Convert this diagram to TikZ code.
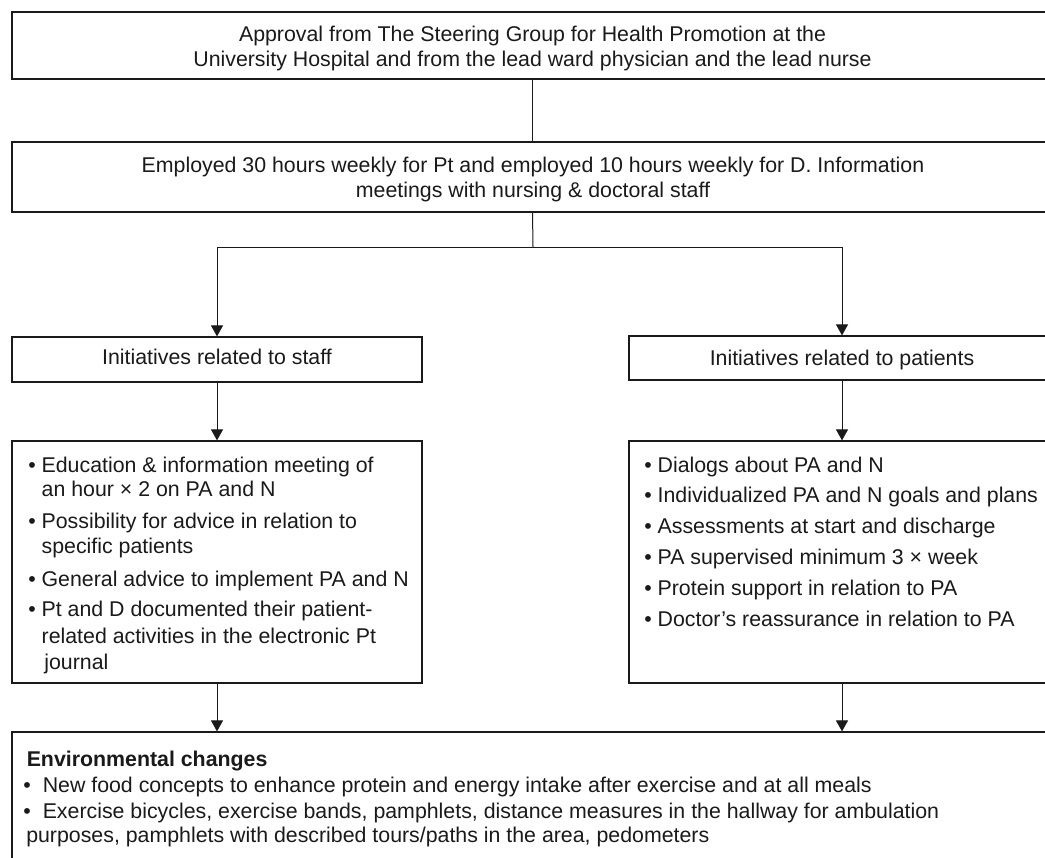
\documentclass[tikz,border=0pt]{standalone}
\usepackage{fontspec}
\setmainfont{Liberation Sans}
\usetikzlibrary{arrows.meta}
\definecolor{ink}{HTML}{1A1A1A}
\newcommand\fs{\fontsize{16pt}{19pt}\selectfont}
\newcommand\ind{\hphantom{• }}
\tikzset{
 box/.style={draw=ink, line width=0.9pt, inner sep=0pt, rectangle},
 conn/.style={draw=ink, line width=0.75pt},
 arr/.style={conn, -{Triangle[width=9pt,length=8.25pt]}},
 tl/.style={inner sep=0pt, anchor=base west, font=\fs, text=ink},
 tc/.style={inner sep=0pt, anchor=base, font=\fs, text=ink},
}
\begin{document}
\begin{tikzpicture}[x=0.75pt,y=-0.75pt]
\useasboundingbox (0,0) rectangle (1045,857);
\fill[white] (0,0) rectangle (1045,857);
\clip (0,0) rectangle (1045,857);
% boxes
\node[box, minimum width=1041*0.75pt, minimum height=67*0.75pt] (approval) at (532.5,45.5) {};
\node[box, minimum width=1041*0.75pt, minimum height=70*0.75pt] (employed) at (532.5,177) {};
\node[box, minimum width=410*0.75pt, minimum height=45*0.75pt] (staff) at (217,359.5) {};
\node[box, minimum width=426*0.75pt, minimum height=44*0.75pt] (patients) at (842,358) {};
\node[box, minimum width=410*0.75pt, minimum height=242*0.75pt] (stafflist) at (217,562) {};
\node[box, minimum width=426*0.75pt, minimum height=242*0.75pt] (patlist) at (842,562) {};
\node[box, minimum width=1041*0.75pt, minimum height=170*0.75pt] (env) at (532.5,817) {};
% texts
\node[tc] (a1) at (532.5,41) {Approval from The Steering Group for Health Promotion at the};
\node[tc] (a2) at (532.5,66) {University Hospital and from the lead ward physician and the lead nurse};
\node[tc] (e1) at (533,172) {Employed 30 hours weekly for Pt and employed 10 hours weekly for D. Information};
\node[tc] (e2) at (533,197) {meetings with nursing \& doctoral staff};
\node[tc] (s0) at (217,364) {Initiatives related to staff};
\node[tc] (p0) at (842,365) {Initiatives related to patients};
\node[tl] (s1) at (28,472) {• Education \& information meeting of};
\node[tl] (s2) at (28,496) {\ind an hour × 2 on PA and N};
\node[tl] (s3) at (28,528) {• Possibility for advice in relation to};
\node[tl] (s4) at (28,553) {\ind specific patients};
\node[tl] (s5) at (28,586) {• General advice to implement PA and N};
\node[tl] (s6) at (28,616) {• Pt and D documented their patient-};
\node[tl] (s7) at (28,643) {\ind related activities in the electronic Pt};
\node[tl] (s8) at (28,669) {\ind\hspace{2pt}journal};
\node[tl] (p1) at (644,472) {• Dialogs about PA and N};
\node[tl] (p2) at (644,502) {• Individualized PA and N goals and plans};
\node[tl] (p3) at (644,533) {• Assessments at start and discharge};
\node[tl] (p4) at (644,564) {• PA supervised minimum 3 × week};
\node[tl] (p5) at (644,595) {• Protein support in relation to PA};
\node[tl] (p6) at (644,626) {• Doctor’s reassurance in relation to PA};
\node[tl, font=\fs\bfseries] (v0) at (26.5,766) {Environmental changes};
\node[tl] (b1) at (23,792) {•};
\node[tl] (v1) at (42.5,792) {New food concepts to enhance protein and energy intake after exercise and at all meals};
\node[tl] (b2) at (23,818) {•};
\node[tl] (v2) at (42.5,818) {Exercise bicycles, exercise bands, pamphlets, distance measures in the hallway for ambulation};
\node[tl] (v3) at (26,842) {purposes, pamphlets with described tours/paths in the area, pedometers};
% connectors
\draw[conn] (approval.south) -- (employed.north);
\coordinate (split) at (533,247);
\draw[conn] (employed.south) -- (split);
\draw[arr] (split) -| (staff.north);
\draw[arr] (split) -| (patients.north);
\draw[arr] (staff.south) -- (stafflist.north);
\draw[arr] (patients.south) -- (patlist.north);
\draw[arr] (stafflist.south) -- (stafflist.south |- env.north);
\draw[arr] (patlist.south) -- (patlist.south |- env.north);
\end{tikzpicture}
\end{document}
